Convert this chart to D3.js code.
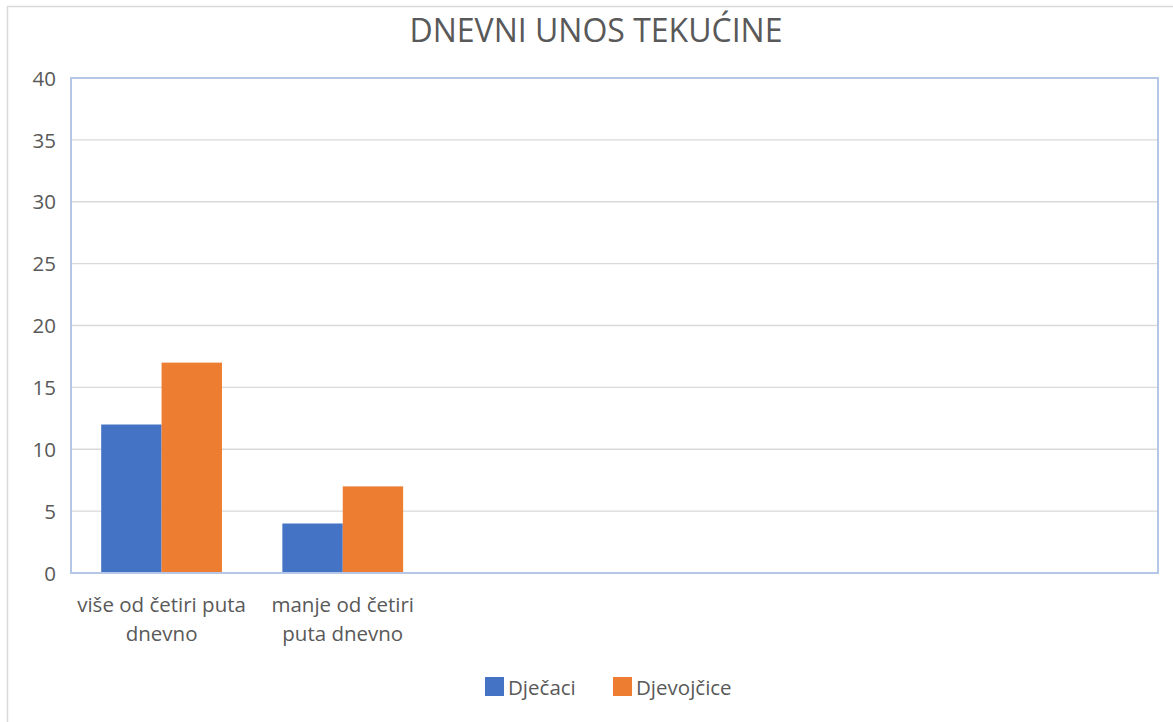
<!DOCTYPE html>
<html><head><meta charset="utf-8">
<script src="https://cdn.jsdelivr.net/npm/d3@7"></script>
<style>body{margin:0;background:#fff}svg{display:block}text{font-family:"Open Sans","Noto Sans",sans-serif}</style>
</head><body>
<svg id="c" width="1173" height="722"></svg>
<script>
const title = "DNEVNI UNOS TEKUĆINE";
const categories = ["više od četiri puta dnevno", "manje od četiri puta dnevno", "", "", "", ""];
const categoryLines = [["više od četiri puta", "dnevno"], ["manje od četiri", "puta dnevno"], [], [], [], []];
const seriesNames = ["Dječaci", "Djevojčice"];
const dječaci = [12, 4, null, null, null, null];
const djevojčice = [17, 7, null, null, null, null];
const yTicks = [0, 5, 10, 15, 20, 25, 30, 35, 40];
const colors = ["#4472c4", "#ed7d31"];

const svg = d3.select("#c");
svg.append("rect").attr("x", 7.5).attr("y", 6.5).attr("width", 1200).attr("height", 800)
  .attr("fill", "#fff").attr("stroke", "#d9d9d9").attr("stroke-width", 1.5);

const L = 71, R = 1158, T = 78, B = 573;
const x = d3.scaleBand().domain(d3.range(categories.length)).range([L, R]).paddingInner(0).paddingOuter(0);
const x1 = d3.scaleBand().domain([0, 1]).range([0, x.bandwidth()]).paddingOuter(0.5).paddingInner(0);
const y = d3.scaleLinear().domain([0, 40]).range([B, T]);

// gridlines
svg.append("g").selectAll("line").data(yTicks.filter(d => d > 0 && d < 40)).join("line")
  .attr("x1", L).attr("x2", R).attr("y1", d => y(d)).attr("y2", d => y(d))
  .attr("stroke", "#d9d9d9").attr("stroke-width", 1.3);

// y axis labels
const yAxis = d3.axisLeft(y).tickValues(yTicks).tickSize(0).tickPadding(15);
const ga = svg.append("g").attr("transform", `translate(${L},0)`).call(yAxis);
ga.select(".domain").remove();
ga.selectAll("text").attr("font-size", 20.5).attr("fill", "#595959").attr("dy", "0.35em")
  .style("font-family", '"Open Sans","Noto Sans",sans-serif');

// bars
const series = [dječaci, djevojčice];
series.forEach((vals, si) => {
  svg.append("g").selectAll("rect").data(vals.map((v, i) => ({v, i})).filter(d => d.v != null)).join("rect")
    .attr("x", d => x(d.i) + x1(si)).attr("width", x1.bandwidth())
    .attr("y", d => y(d.v)).attr("height", d => y(0) - y(d.v))
    .attr("fill", colors[si]);
});

// plot border
svg.append("rect").attr("x", L).attr("y", T).attr("width", R - L).attr("height", B - T)
  .attr("fill", "none").attr("stroke", "#b4c7e7").attr("stroke-width", 2);

// category labels
categoryLines.forEach((lines, i) => {
  const t = svg.append("text").attr("text-anchor", "middle").attr("font-size", 20.5).attr("fill", "#595959");
  lines.forEach((ln, k) => t.append("tspan").attr("x", x(i) + x.bandwidth() / 2).attr("y", 612 + k * 29).text(ln));
});

// title
svg.append("text").attr("x", 596).attr("y", 42).attr("text-anchor", "middle")
  .attr("font-size", 32).attr("fill", "#595959").text(title);

// legend
const leg = [{x: 485, tx: 508}, {x: 613, tx: 636}];
seriesNames.forEach((n, i) => {
  svg.append("rect").attr("x", leg[i].x).attr("y", 677).attr("width", 19).attr("height", 19).attr("fill", colors[i]);
  svg.append("text").attr("x", leg[i].tx).attr("y", 695).attr("font-size", 20.5).attr("fill", "#595959").text(n);
});
</script>
</body></html>
